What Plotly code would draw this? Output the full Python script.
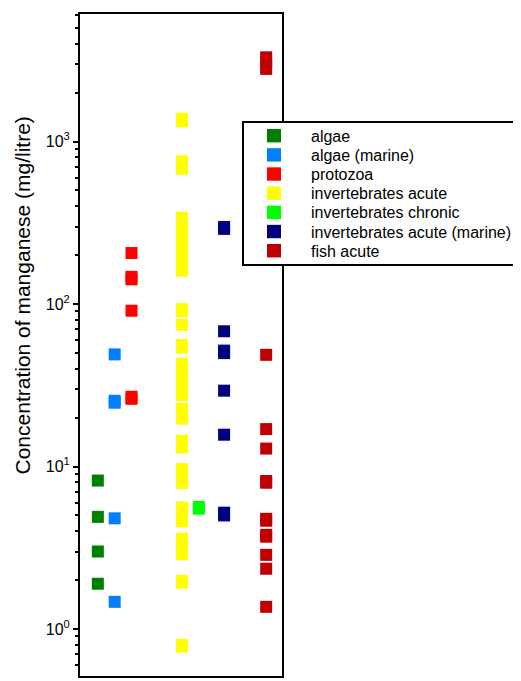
import plotly.graph_objects as go

# Group names (legend)
groups = ["algae", "algae (marine)", "protozoa", "invertebrates acute",
          "invertebrates chronic", "invertebrates acute (marine)", "fish acute"]

# Concentrations (mg/litre) per group
algae = [8.2, 4.9, 3.0, 1.9]
algae_marine = [49, 25.4, 24.7, 4.8, 1.47]
protozoa = [206, 147, 142, 91, 26.9, 26.1]
invertebrates_acute = [1380, 1330, 757, 720, 680,
                       340, 300, 270, 240, 220, 195, 175, 160,
                       93, 90.5, 74.3, 56, 54,
                       43, 38.5, 34.5, 31, 27.5,
                       22.6, 21, 19.7, 14.4, 13.1,
                       9.65, 8.74, 7.91, 5.6, 5.1, 4.6,
                       3.6, 3.2, 2.9, 1.98, 1.93, 0.80, 0.78]
invertebrates_chronic = [5.65, 5.5]
invertebrates_acute_marine = [298, 290, 68, 51.7, 49.9, 29.3, 15.7, 5.2, 5.0]
fish_acute = [3300, 3050, 2800, 48.7, 17, 12.9, 8.15, 7.95, 4.77, 4.64,
              3.8, 3.7, 2.86, 2.35, 1.37]

series = [algae, algae_marine, protozoa, invertebrates_acute,
          invertebrates_chronic, invertebrates_acute_marine, fish_acute]

# y-axis tick labels and title
tick_vals = [1, 10, 100, 1000]
tick_text = ["10<sup>0</sup>", "10<sup>1</sup>", "10<sup>2</sup>", "10<sup>3</sup>"]
y_title = "Concentration of manganese (mg/litre)"

# Styling / layout (not data)
x_pos = [1, 2, 3, 6, 7, 8.5, 11]
colors = ["#008000", "#0080FF", "#FF0000", "#FFFF00", "#00FF00", "#000080", "#C00000"]

# page is offset by the 8px body margin; plot area in page px: x 80..282, y 14..676
PX0, PX1, PY0, PY1 = 80.0, 282.0, 14.0, 676.0


def px_x(px):
    return (px - PX0) / (PX1 - PX0)


def px_y(py):
    return (PY1 - py) / (PY1 - PY0)


fig = go.Figure()
for name, vals, xp, col in zip(groups, series, x_pos, colors):
    fig.add_trace(go.Scatter(
        x=[xp] * len(vals), y=vals, mode="markers", name=name, showlegend=False,
        marker=dict(symbol="square", size=12, color=col, line=dict(width=0)),
    ))

# legend box drawn as a guide (box, swatches, labels)
shapes = [dict(type="rect", xref="paper", yref="paper",
               x0=px_x(243), x1=px_x(520), y0=px_y(265), y1=px_y(122),
               line=dict(color="black", width=2), fillcolor="white", layer="above")]
annotations = []
row0, row_gap = 135.7, 19.17
for i, (name, col) in enumerate(zip(groups, colors)):
    cy = row0 + i * row_gap
    shapes.append(dict(type="rect", xref="paper", yref="paper",
                       x0=px_x(267), x1=px_x(281), y0=px_y(cy + 6.7), y1=px_y(cy - 6.7),
                       line=dict(width=0), fillcolor=col, layer="above"))
    annotations.append(dict(text=name, xref="paper", yref="paper",
                            x=px_x(309), y=px_y(cy + 0.5), xanchor="left", yanchor="middle",
                            showarrow=False, font=dict(size=16, color="black")))

# y-axis title (placed as in the reference, above the axis centre)
annotations.append(dict(text=y_title, xref="paper", yref="paper",
                        x=px_x(22), y=px_y(295.5), xanchor="center", yanchor="middle",
                        textangle=-90, showarrow=False,
                        font=dict(size=21, color="black")))

fig.update_layout(
    width=513, height=673,
    margin=dict(l=72, r=239, t=6, b=5),
    paper_bgcolor="white", plot_bgcolor="white",
    font=dict(family="Liberation Sans, Arial, sans-serif", size=16, color="black"),
    showlegend=False,
    shapes=shapes, annotations=annotations,
)
fig.update_xaxes(range=[-0.06, 11.94], showline=True, linecolor="black", linewidth=2,
                 mirror=True, showticklabels=False, ticks="", showgrid=False, zeroline=False)
fig.update_yaxes(type="log", range=[-0.289, 3.785], showline=True, linecolor="black",
                 linewidth=2, mirror=True, showgrid=False, zeroline=False,
                 tickvals=tick_vals, ticktext=tick_text, ticks="outside", ticklen=5,
                 tickwidth=1.5, tickcolor="black", tickfont=dict(size=16),
                 minor=dict(dtick="D1", ticks="outside", ticklen=3, tickcolor="black",
                            tickwidth=1.5, showgrid=False))

fig.write_html("out.html")
